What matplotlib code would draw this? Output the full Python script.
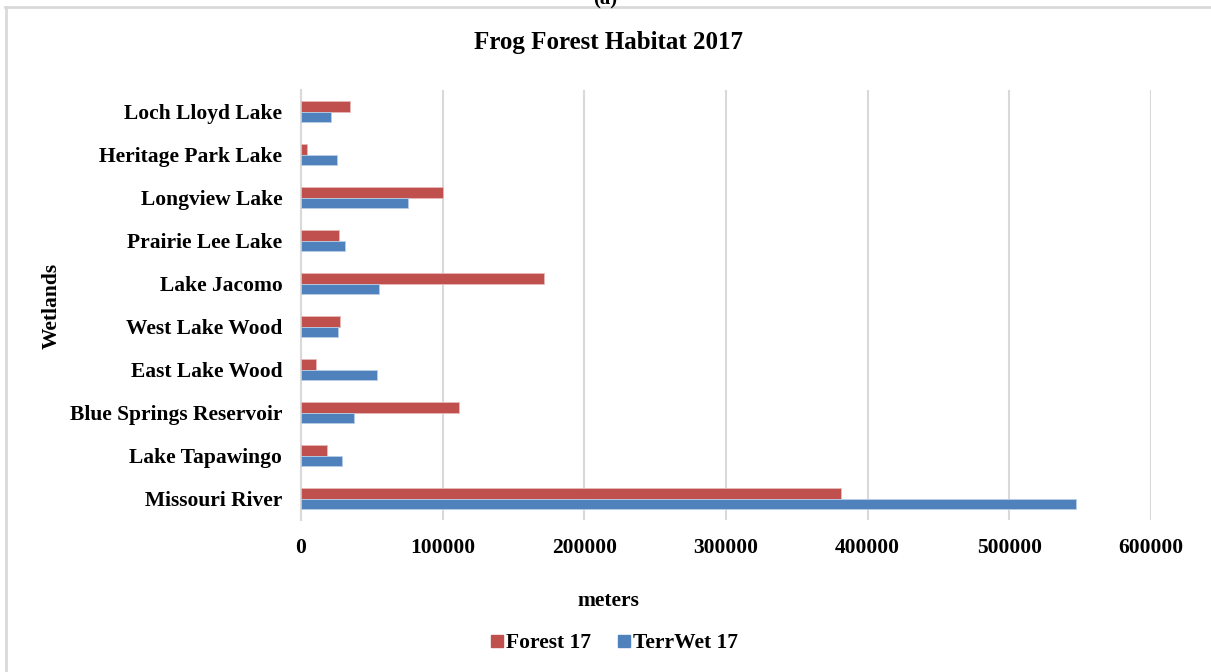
# frog forest habitat by wetland, grouped horizontal bars
import numpy as np
from matplotlib import pyplot as plt
from matplotlib.lines import Line2D

wetlands = ['Missouri River', 'Lake Tapawingo', 'Blue Springs Reservoir',
            'East Lake Wood', 'West Lake Wood', 'Lake Jacomo',
            'Prairie Lee Lake', 'Longview Lake', 'Heritage Park Lake',
            'Loch Lloyd Lake']
forest_17 = [381000, 18700, 111400, 10400, 27400, 171600, 26900, 99900, 4000, 34700]
terrwet_17 = [546800, 28800, 37300, 53600, 26200, 55000, 30900, 75300, 25300, 21000]
x_ticks = [0, 100000, 200000, 300000, 400000, 500000, 600000]

plt.rcParams['font.family'] = ['Liberation Serif', 'DejaVu Serif']
plt.rcParams['font.weight'] = 'bold'

red = '#C0504D'
blue = '#4F81BD'
grid = '#D9D9D9'

fig = plt.figure(figsize=(12.11, 6.72), dpi=100)
ax = fig.add_axes([301 / 1211, 1 - 520 / 672, 850 / 1211, 430 / 672])

y = np.arange(len(wetlands))
h = 0.235
ax.barh(y + h / 2, forest_17, height=h, color=red, edgecolor='#E6B9B8',
        linewidth=0.6, label='Forest 17', zorder=3)
ax.barh(y - h / 2, terrwet_17, height=h, color=blue, edgecolor='#B9CDE5',
        linewidth=0.6, label='TerrWet 17', zorder=3)

ax.set_xlim(0, 600000)
ax.set_ylim(-0.5, len(wetlands) - 0.5)
ax.set_xticks(x_ticks)
ax.set_xticklabels([str(v) for v in x_ticks])
ax.set_yticks(y)
ax.set_yticklabels(wetlands)
ax.tick_params(axis='x', length=0, pad=13, labelsize=15.5)
ax.tick_params(axis='y', length=0, pad=13.5, labelsize=15.5)
ax.xaxis.grid(True, color=grid, linewidth=1.5, zorder=0)
for s in ['top', 'right', 'bottom']:
    ax.spines[s].set_visible(False)
ax.spines['left'].set_color(grid)
ax.spines['left'].set_linewidth(1.5)

fig.text(609 / 1211, 1 - 42 / 672, 'Frog Forest Habitat 2017', ha='center',
         va='center', fontsize=18)
fig.text(608 / 1211, 1 - 601 / 672, 'meters', ha='center', va='center',
         fontsize=15.5)
fig.text(52 / 1211, 1 - 306 / 672, 'Wetlands', ha='center', va='center',
         rotation=90, fontsize=15.5)
fig.text(605 / 1211, 1 - 4 / 672, '(a)', ha='center', va='baseline',
         fontsize=15)

handles = [Line2D([], [], marker='s', linestyle='', markersize=8, color=red),
           Line2D([], [], marker='s', linestyle='', markersize=8, color=blue)]
fig.legend(handles, ['Forest 17', 'TerrWet 17'], loc='center',
           bbox_to_anchor=(614 / 1211, 1 - 643 / 672), ncol=2, frameon=False,
           fontsize=15.5, handletextpad=0.05, columnspacing=1.2,
           handlelength=0.7)

# outer chart frame (runs off the right and bottom edges)
fig.add_artist(Line2D([5 / 1211, 1], [1 - 7 / 672, 1 - 7 / 672],
                      color=grid, linewidth=2))
fig.add_artist(Line2D([6 / 1211, 6 / 1211], [0, 1 - 7 / 672],
                      color=grid, linewidth=2))

fig.savefig('out.png', dpi=100)
